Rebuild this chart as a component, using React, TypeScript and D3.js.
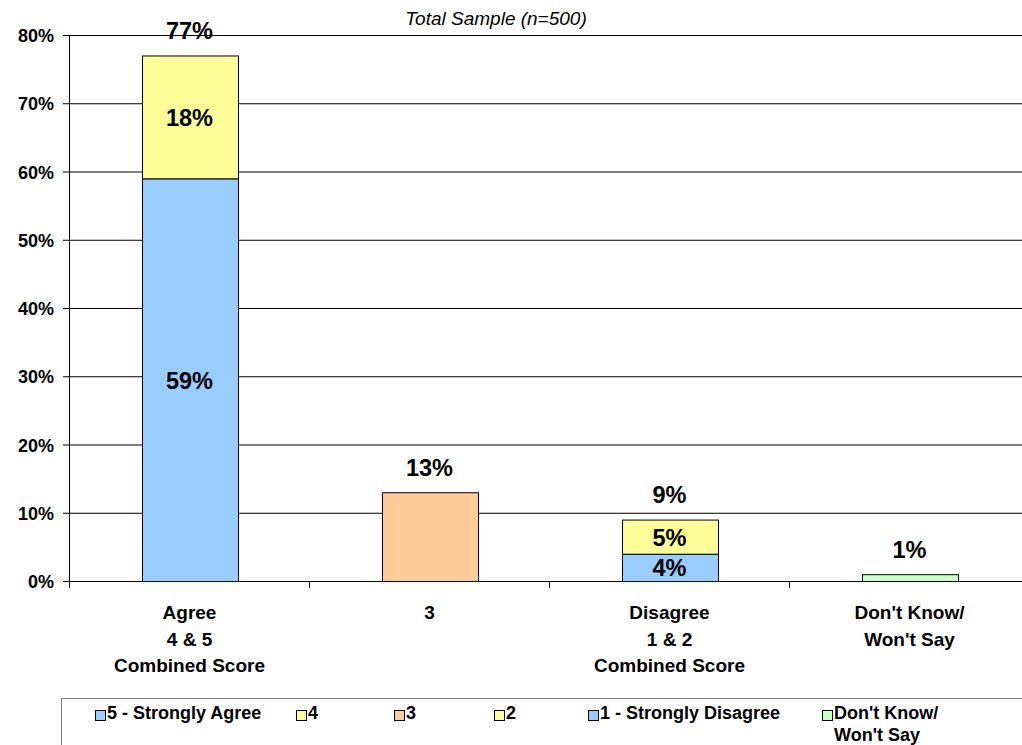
import React from "react";
import * as d3 from "d3";

const categories = ["Agree|4 & 5|Combined Score", "3", "Disagree|1 & 2|Combined Score", "Don't Know/|Won't Say"];
const seriesNames = ["5 - Strongly Agree", "4", "3", "2", "1 - Strongly Disagree", "Don't Know/|Won't Say"];
const seriesColors = ["#99CCFF", "#FFFF99", "#FFCC99", "#FFFF99", "#99CCFF", "#CCFFCC"];
const strongAgree = [59, 0, 0, 0];
const agree4 = [18, 0, 0, 0];
const neutral3 = [0, 13, 0, 0];
const disagree2 = [0, 0, 5, 0];
const strongDisagree = [0, 0, 4, 0];
const dontKnow = [0, 0, 0, 1];
const totals = [77, 13, 9, 1];
const yTicks = [0, 10, 20, 30, 40, 50, 60, 70, 80];
const title = "Total Sample (n=500)";
// stacking order (bottom to top)
const stackOrder = [0, 4, 2, 5, 1, 3];
const seriesValues = [strongAgree, agree4, neutral3, disagree2, strongDisagree, dontKnow];
const legendX = [95, 296, 394, 494, 588, 822];

const FONT = "'Liberation Sans', Arial, sans-serif";

export default function App() {
  const W = 1022, H = 745;
  const x = d3.scaleBand<number>().domain([0, 1, 2, 3]).range([69.5, 1029.5]).paddingInner(0.6).paddingOuter(0.3);
  const y = d3.scaleLinear().domain([0, 80]).range([581.5, 35.5]);

  const table = categories.map((_, i) => {
    const row: Record<string, number> = { idx: i };
    seriesValues.forEach((s, k) => (row["s" + k] = s[i]));
    return row;
  });
  const stack = d3.stack<Record<string, number>>().keys(stackOrder.map((k) => "s" + k));
  const layers = stack(table);

  return (
    <svg width={W} height={H} style={{ position: "absolute", left: 0, top: 0, background: "#fff" }} fontFamily={FONT}>
      <text x={496} y={25} textAnchor="middle" fontSize={19} fontStyle="italic" fill="#000">{title}</text>
      {/* gridlines */}
      {yTicks.map((t) => (
        <g key={t}>
          {t > 0 && <line x1={69.5} x2={W} y1={y(t)} y2={y(t)} stroke="#000" strokeWidth={1} />}
          <line x1={63} x2={69.5} y1={y(t)} y2={y(t)} stroke="#000" strokeWidth={1} />
          <text x={54} y={y(t) + 6.5} textAnchor="end" fontSize={18} fontWeight="bold" fill="#000">{t}%</text>
        </g>
      ))}
      {/* bars */}
      {layers.map((layer) => {
        const k = +layer.key.slice(1);
        return layer.map((d, i) => {
          const v = d[1] - d[0];
          if (v <= 0) return null;
          return (
            <rect key={layer.key + i} x={Math.round(x(i)!) + 0.5} y={y(d[1])} width={x.bandwidth()} height={y(d[0]) - y(d[1])}
              fill={seriesColors[k]} stroke="#000" strokeWidth={1} />
          );
        });
      })}
      {/* segment labels */}
      {layers.map((layer) =>
        layer.map((d, i) => {
          const v = d[1] - d[0];
          if (v <= 0 || v === totals[i]) return null;
          return (
            <text key={"l" + layer.key + i} x={x(i)! + x.bandwidth() / 2} y={(y(d[0]) + y(d[1])) / 2 + 8.5}
              textAnchor="middle" fontSize={23.5} fontWeight="bold" fill="#000">{v}%</text>
          );
        })
      )}
      {totals.map((t, i) => (
        <text key={"t" + i} x={x(i)! + x.bandwidth() / 2} y={y(t) - 17} textAnchor="middle" fontSize={23.5} fontWeight="bold" fill="#000">{t}%</text>
      ))}
      {/* axes */}
      <line x1={69.5} x2={69.5} y1={35} y2={582} stroke="#000" />
      <line x1={63} x2={W} y1={581.5} y2={581.5} stroke="#000" />
      {[0, 1, 2, 3].map((i) => (
        <line key={"xt" + i} x1={69.5 + x.step() * i} x2={69.5 + x.step() * i} y1={581.5} y2={588} stroke="#000" />
      ))}
      {categories.map((c, i) => (
        <text key={"c" + i} x={x(i)! + x.bandwidth() / 2} y={619} textAnchor="middle" fontSize={19} fontWeight="bold" fill="#000">
          {c.split("|").map((ln, j) => (
            <tspan key={j} x={x(i)! + x.bandwidth() / 2} dy={j === 0 ? 0 : 26.7}>{ln}</tspan>
          ))}
        </text>
      ))}
      {/* legend */}
      <rect x={61.5} y={698.5} width={1000} height={100} fill="#fff" stroke="#808080" strokeWidth={1} />
      {seriesNames.map((n, k) => (
        <g key={"lg" + k}>
          <rect x={legendX[k] + 0.5} y={710.5} width={10} height={10} fill={seriesColors[k]} stroke="#000" />
          <text x={legendX[k] + 12} y={719} fontSize={18} fontWeight="bold" fill="#000">
            {n.split("|").map((ln, j) => (
              <tspan key={j} x={legendX[k] + 12} dy={j === 0 ? 0 : 22}>{ln}</tspan>
            ))}
          </text>
        </g>
      ))}
    </svg>
  );
}
